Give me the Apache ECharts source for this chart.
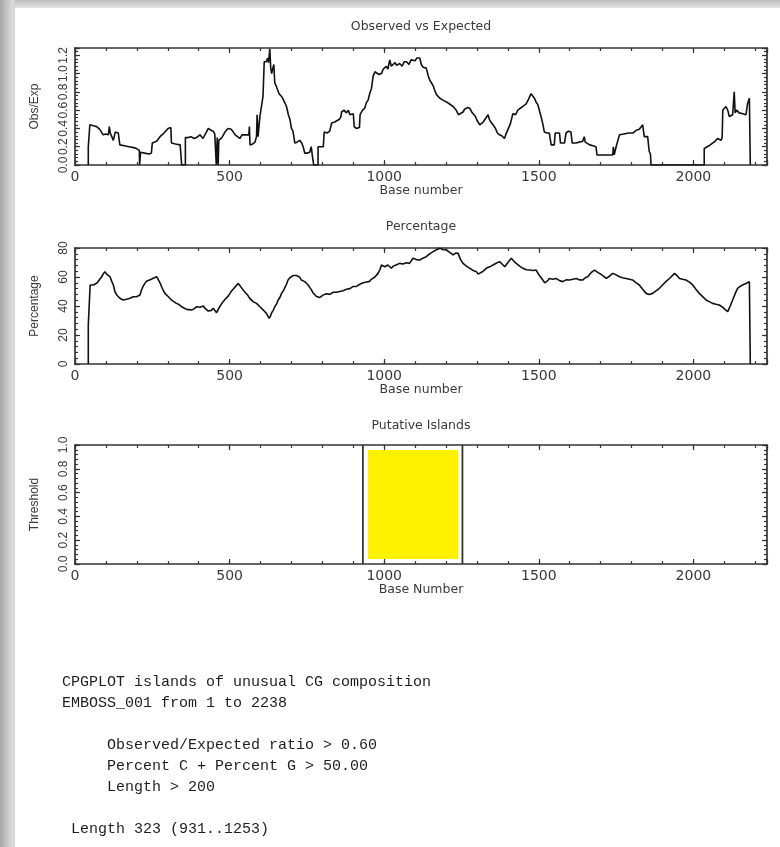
<!DOCTYPE html>
<html><head><meta charset="utf-8">
<script src="https://cdn.jsdelivr.net/npm/echarts@6/dist/echarts.min.js"></script>
<style>html,body{margin:0;padding:0;background:#fff}#c{width:780px;height:847px}</style>
</head><body><div id="c"></div>
<script>
const seqLength = 2238;
const obsExp = [[43,0],[43,0.2],[47,0.2],[48,0.44],[60,0.43],[70,0.42],[80,0.39],[91,0.33],[100,0.34],[108,0.33],[111,0.42],[114,0.35],[124,0.27],[130,0.36],[140,0.35],[143,0.36],[145,0.22],[160,0.21],[175,0.2],[190,0.19],[199,0.18],[205,0.16],[208,0.16],[209,0],[211,0],[212,0.14],[225,0.13],[240,0.12],[247,0.13],[250,0.24],[264,0.26],[275,0.31],[285,0.34],[291,0.36],[301,0.4],[307,0.42],[310,0.41],[312,0.24],[325,0.23],[340,0.22],[345,0.23],[345,0],[357,0],[357,0.3],[366,0.3],[375,0.31],[385,0.29],[393,0.3],[404,0.33],[414,0.29],[420,0.33],[425,0.36],[431,0.4],[440,0.38],[447,0.37],[452,0.34],[457,0.33],[457,0],[460,0],[460,0.3],[463,0.3],[463,0],[465,0],[465,0.27],[475,0.3],[485,0.36],[495,0.4],[505,0.39],[512,0.36],[518,0.33],[523,0.31],[533,0.29],[540,0.33],[544,0.35],[550,0.33],[555,0.34],[562,0.33],[564,0.42],[566,0.22],[575,0.23],[582,0.25],[587,0.31],[589,0.55],[592,0.31],[596,0.31],[598,0.53],[603,0.64],[608,0.75],[611,0.75],[612,1.13],[616,1.11],[619,1.13],[623,1.17],[626,1.12],[630,1.27],[633,1.06],[636,1.0],[640,1.06],[643,1.1],[646,0.9],[650,0.87],[660,0.78],[668,0.75],[673,0.72],[679,0.7],[684,0.64],[690,0.55],[695,0.5],[700,0.4],[705,0.37],[711,0.24],[718,0.25],[727,0.27],[733,0.24],[738,0.2],[743,0.13],[750,0.13],[759,0.14],[764,0.2],[768,0.09],[771,0.09],[772,0],[786,0],[786,0.2],[803,0.2],[806,0.36],[815,0.35],[824,0.37],[830,0.46],[840,0.47],[846,0.48],[855,0.5],[860,0.53],[862,0.58],[870,0.6],[878,0.57],[884,0.6],[889,0.55],[895,0.57],[900,0.56],[903,0.42],[910,0.4],[920,0.41],[922,0.55],[930,0.6],[937,0.62],[942,0.68],[948,0.71],[953,0.78],[959,0.84],[964,0.97],[970,1.02],[975,1.02],[983,0.99],[991,1.0],[997,1.05],[1002,1.06],[1007,1.08],[1012,1.05],[1018,1.15],[1023,1.08],[1029,1.07],[1035,1.12],[1040,1.09],[1050,1.11],[1058,1.08],[1065,1.13],[1072,1.13],[1080,1.1],[1087,1.15],[1093,1.15],[1100,1.14],[1105,1.17],[1109,1.19],[1115,1.17],[1120,1.1],[1126,1.07],[1131,1.06],[1136,1.06],[1142,0.98],[1147,0.93],[1152,0.92],[1158,0.87],[1163,0.82],[1169,0.77],[1175,0.75],[1180,0.73],[1190,0.71],[1201,0.69],[1210,0.67],[1216,0.68],[1223,0.64],[1233,0.6],[1240,0.55],[1245,0.55],[1255,0.58],[1260,0.61],[1266,0.6],[1270,0.63],[1277,0.62],[1283,0.58],[1288,0.57],[1295,0.53],[1300,0.49],[1309,0.44],[1315,0.46],[1320,0.47],[1330,0.52],[1336,0.55],[1340,0.5],[1345,0.47],[1352,0.44],[1360,0.4],[1366,0.35],[1373,0.33],[1380,0.32],[1389,0.29],[1394,0.34],[1400,0.35],[1408,0.45],[1416,0.56],[1425,0.55],[1432,0.6],[1438,0.62],[1448,0.64],[1459,0.67],[1467,0.72],[1475,0.78],[1481,0.8],[1486,0.73],[1491,0.69],[1497,0.66],[1502,0.64],[1508,0.52],[1513,0.45],[1518,0.36],[1526,0.35],[1534,0.35],[1538,0.33],[1540,0.22],[1550,0.22],[1553,0.35],[1567,0.35],[1570,0.24],[1583,0.24],[1588,0.35],[1596,0.37],[1604,0.36],[1608,0.24],[1620,0.24],[1630,0.25],[1642,0.26],[1647,0.31],[1650,0.25],[1653,0.24],[1665,0.22],[1675,0.21],[1685,0.2],[1688,0.11],[1739,0.11],[1741,0.2],[1744,0.11],[1748,0.11],[1750,0.2],[1755,0.2],[1761,0.33],[1775,0.34],[1790,0.35],[1804,0.35],[1815,0.38],[1825,0.39],[1836,0.44],[1841,0.31],[1852,0.31],[1857,0.15],[1861,0.12],[1863,0],[2035,0],[2035,0.18],[2041,0.2],[2050,0.21],[2062,0.24],[2070,0.26],[2078,0.29],[2089,0.27],[2093,0.3],[2095,0.6],[2100,0.62],[2105,0.64],[2111,0.6],[2116,0.53],[2121,0.51],[2127,0.55],[2131,0.53],[2132,0.8],[2135,0.57],[2140,0.6],[2143,0.62],[2148,0.57],[2160,0.56],[2170,0.55],[2175,0.67],[2181,0.73],[2184,0.72],[2184,0]];
const percent = [[43,0],[43,27],[48,27],[49,54.5],[60,54.5],[66,55.5],[72,56],[80,58.5],[86,60],[91,62],[97,63.7],[102,62],[108,61.5],[113,60.2],[119,57],[124,54.5],[129,50],[135,47.6],[140,46.5],[145,45.3],[150,44.5],[156,44.1],[162,44.8],[167,44.6],[172,45.5],[178,45.3],[183,46],[188,46.4],[194,46.8],[199,46.4],[205,47.2],[210,47.6],[215,51],[220,53.5],[226,55.6],[231,57],[237,57.9],[245,58.3],[253,59.1],[258,59.4],[264,60.2],[269,59.1],[275,56],[280,53.3],[286,50.5],[291,48.7],[296,47.5],[302,46.4],[307,45.3],[312,44.1],[320,43],[328,41.8],[336,41],[345,39.5],[352,38.6],[361,37.7],[369,37.5],[377,37.2],[385,38],[393,39.5],[398,39.8],[404,39.1],[409,40.2],[415,40],[420,38.5],[425,37.2],[431,36.5],[436,36.1],[441,37],[447,38.4],[452,37.5],[458,35.4],[463,37.5],[468,39.5],[474,41.5],[479,43],[485,44.5],[490,45.3],[496,47],[501,48.7],[507,50.5],[512,51],[517,53],[522,53.3],[528,55.6],[533,54.2],[539,52.5],[544,51],[550,49.5],[555,48.7],[560,47],[565,45.3],[571,44.5],[576,43],[582,42],[587,41.8],[593,40.5],[598,39.5],[603,38.5],[609,37.2],[614,36],[619,34.9],[624,33],[628,31.5],[632,33],[635,34.9],[641,37],[646,39.5],[652,41.5],[657,44.1],[663,46],[668,48.7],[674,50.5],[679,52.9],[684,55],[689,57.9],[695,59.5],[700,60.7],[705,61],[711,61.4],[716,61],[722,60.7],[727,59.8],[732,57.9],[738,57.5],[743,56.8],[749,55.5],[754,54.5],[760,52.5],[765,51],[770,49],[775,48.7],[781,46.5],[786,45.3],[791,45.8],[797,46.4],[802,47.5],[808,47.6],[813,48.5],[818,48.7],[824,48],[829,48.3],[835,49.5],[840,50],[845,49.5],[851,48.7],[856,50],[862,51],[867,50.5],[872,50.6],[878,51.5],[883,52.2],[889,52],[894,52.9],[900,53.5],[905,53.8],[910,53.5],[915,53.8],[921,55],[926,55.6],[932,56],[937,56.1],[943,56.5],[948,55.6],[953,57],[958,58.4],[964,59],[969,59.8],[975,61],[980,62.5],[986,65],[991,68.3],[996,67.5],[1002,67.1],[1007,68],[1012,68.3],[1018,67.5],[1023,66],[1029,67.5],[1034,67.1],[1040,68.5],[1045,68.3],[1050,69.4],[1061,69],[1071,69.8],[1082,69.4],[1093,72.9],[1104,72],[1115,71.7],[1125,73],[1136,74],[1147,76],[1158,77.5],[1169,78.8],[1180,79.8],[1190,79],[1201,78.6],[1212,77],[1223,75.2],[1231,76.5],[1239,76.3],[1247,72],[1255,69.4],[1266,67.5],[1277,66],[1288,64.5],[1298,63.7],[1304,62],[1309,61.4],[1320,64],[1330,66],[1341,67],[1352,68.3],[1362,69.5],[1373,70.6],[1381,69],[1390,67.1],[1400,70],[1411,72.9],[1419,71],[1427,69.4],[1438,67.5],[1449,66],[1460,65],[1470,64.8],[1481,64.5],[1491,64.8],[1502,61],[1513,57.9],[1519,56],[1524,55.6],[1529,57.5],[1534,59],[1545,58.5],[1556,59],[1567,57.5],[1578,56.8],[1588,58],[1599,57.9],[1610,58.5],[1621,59],[1632,58],[1642,57.9],[1650,59.5],[1658,60.2],[1669,63],[1680,64.8],[1688,63.5],[1696,62.5],[1707,61],[1718,59],[1728,60.5],[1739,62.5],[1750,61.5],[1761,60.2],[1771,59.5],[1782,59],[1793,58.5],[1804,57.9],[1815,56],[1825,54.5],[1836,51.5],[1847,48.7],[1857,48],[1868,48.7],[1879,50.5],[1890,52.2],[1900,54.5],[1911,56.8],[1925,59.5],[1939,62.5],[1947,61],[1955,59],[1965,58.5],[1976,57.9],[1987,56.5],[1998,54.5],[2008,51.5],[2019,48.7],[2030,46.5],[2041,44.1],[2051,43],[2062,41.8],[2073,41.2],[2084,40.7],[2095,39],[2103,37.5],[2111,36.1],[2119,40],[2127,44.1],[2135,48.5],[2143,52.2],[2151,53.5],[2159,54.5],[2170,55.5],[2181,56.8],[2184,57],[2184,0]];
const islands = [[931, 1253]];
const titles = ['Observed vs Expected', 'Percentage', 'Putative Islands'];
const xNames = ['Base number', 'Base number', 'Base Number'];
const yNames = ['Obs/Exp', 'Percentage', 'Threshold'];
const yMax = [1.28, 80, 1.0];
const yStep = [0.2, 20, 0.2];
const yMinorStep = [0.04, 4, 0.04];
const yDecimals = [1, 0, 1];
const xStep = 500, xMinorStep = 100;
const criteria = { ratio: '0.60', percent: '50.00', length: '200' };
const reportLines = [
  'CPGPLOT islands of unusual CG composition',
  'EMBOSS_001 from 1 to ' + seqLength,
  '',
  '     Observed/Expected ratio > ' + criteria.ratio,
  '     Percent C + Percent G > ' + criteria.percent,
  '     Length > ' + criteria.length,
  '',
  ' Length ' + (islands[0][1] - islands[0][0] + 1) + ' (' + islands[0][0] + '..' + islands[0][1] + ')'
];

const gridTops = [48, 248, 445];
const gridHeights = [117, 116, 119];
const titleTops = [20, 220, 419];
const AX = '#333';
const TXT = '#3a3a3a';
const wideFont = 'DejaVu Sans';
const narrowFont = 'Liberation Sans';

const chart = echarts.init(document.getElementById('c'), null, { renderer: 'canvas' });
const grids = [], xAxes = [], yAxes = [], titleOpts = [];
for (let i = 0; i < 3; i++) {
  grids.push({ left: 75, right: 13, top: gridTops[i], height: gridHeights[i], containLabel: false, outerBoundsMode: 'none' });
  titleOpts.push({ text: titles[i], left: 421, top: titleTops[i], textAlign: 'center', padding: 0,
    textStyle: { fontSize: 12.5, fontWeight: 'normal', fontFamily: wideFont, color: TXT } });
  const xBase = { gridIndex: i, type: 'value', min: 0, max: seqLength, splitLine: { show: false } };
  const tickStyle = { color: AX, width: 1.2 };
  const lineStyle = { color: AX, width: 1.7 };
  xAxes.push(Object.assign({}, xBase, { position: 'bottom', interval: xStep,
    axisLine: { show: true, onZero: false, lineStyle },
    axisTick: { show: true, inside: true, length: 5, lineStyle: tickStyle },
    axisLabel: { show: true, margin: 5, fontSize: 14, fontFamily: wideFont, color: TXT,
      formatter: v => (Math.abs(v % xStep) < 1e-6 ? String(v) : '') },
    name: xNames[i], nameLocation: 'middle', nameGap: 19, nameMoveOverlap: false,
    nameTextStyle: { fontSize: 12.5, fontFamily: wideFont, color: TXT } }));
  xAxes.push(Object.assign({}, xBase, { position: 'bottom', interval: xMinorStep,
    axisLine: { show: false, onZero: false }, axisTick: { show: true, inside: true, length: 3, lineStyle: tickStyle },
    axisLabel: { show: false } }));
  xAxes.push(Object.assign({}, xBase, { position: 'top', interval: xStep,
    axisLine: { show: true, onZero: false, lineStyle }, axisTick: { show: true, inside: true, length: 5, lineStyle: tickStyle },
    axisLabel: { show: false } }));
  xAxes.push(Object.assign({}, xBase, { position: 'top', interval: xMinorStep,
    axisLine: { show: false, onZero: false }, axisTick: { show: true, inside: true, length: 3, lineStyle: tickStyle },
    axisLabel: { show: false } }));

  const yBase = { gridIndex: i, type: 'value', min: 0, max: yMax[i], splitLine: { show: false } };
  const step = yStep[i], dec = yDecimals[i];
  yAxes.push(Object.assign({}, yBase, { position: 'left', interval: step,
    axisLine: { show: true, onZero: false, lineStyle }, axisTick: { show: true, inside: true, length: 5, lineStyle: tickStyle },
    axisLabel: { show: true, rotate: 90, margin: 5, fontSize: 12, fontFamily: narrowFont, color: TXT,
      formatter: v => { const k = v / step; return Math.abs(k - Math.round(k)) < 1e-6 ? v.toFixed(dec) : ''; } },
    name: yNames[i], nameLocation: 'middle', nameGap: 34, nameMoveOverlap: false,
    nameTextStyle: { fontSize: 12, fontFamily: narrowFont, color: TXT } }));
  yAxes.push(Object.assign({}, yBase, { position: 'left', interval: yMinorStep[i],
    axisLine: { show: false, onZero: false }, axisTick: { show: true, inside: true, length: 3, lineStyle: tickStyle },
    axisLabel: { show: false } }));
  yAxes.push(Object.assign({}, yBase, { position: 'right', interval: step,
    axisLine: { show: true, onZero: false, lineStyle }, axisTick: { show: true, inside: true, length: 5, lineStyle: tickStyle },
    axisLabel: { show: false } }));
  yAxes.push(Object.assign({}, yBase, { position: 'right', interval: yMinorStep[i],
    axisLine: { show: false, onZero: false }, axisTick: { show: true, inside: true, length: 3, lineStyle: tickStyle },
    axisLabel: { show: false } }));
}

const lineSeries = (data, idx) => ({
  type: 'line', data, xAxisIndex: idx * 4, yAxisIndex: idx * 4,
  showSymbol: false, symbol: 'none', smooth: false, clip: true, silent: true,
  lineStyle: { color: '#111', width: 1.6 }, z: 5
});

const option = {
  animation: false,
  backgroundColor: '#fff',
  title: titleOpts,
  grid: grids,
  xAxis: xAxes,
  yAxis: yAxes,
  series: [
    lineSeries(obsExp, 0),
    lineSeries(percent, 1),
    {
      type: 'custom', xAxisIndex: 8, yAxisIndex: 8, silent: true, z: 3,
      data: islands.map(d => [d[0], d[1], 0, 1]),
      encode: { x: [0, 1], y: [2, 3] },
      renderItem: (params, api) => {
        const p0 = api.coord([api.value(0), api.value(2)]);
        const p1 = api.coord([api.value(1), api.value(3)]);
        return { type: 'group', children: [
          { type: 'rect', shape: { x: p0[0] + 5, y: p1[1] + 5, width: p1[0] - p0[0] - 9, height: p0[1] - p1[1] - 10 },
            style: { fill: '#fff200' } },
          { type: 'line', shape: { x1: p0[0], y1: p1[1], x2: p0[0], y2: p0[1] }, style: { stroke: AX, lineWidth: 1.8 } },
          { type: 'line', shape: { x1: p1[0], y1: p1[1], x2: p1[0], y2: p0[1] }, style: { stroke: AX, lineWidth: 1.8 } }
        ] };
      }
    }
  ],
  graphic: [
    { type: 'rect', left: 0, top: 0, z: -10, shape: { width: 780, height: 8 },
      style: { fill: new echarts.graphic.LinearGradient(0, 0, 0, 1, [{ offset: 0, color: '#bcbcbc' }, { offset: 1, color: '#e4e4e4' }]) } },
    { type: 'rect', left: 0, top: 0, z: -9, shape: { width: 15, height: 847 },
      style: { fill: new echarts.graphic.LinearGradient(0, 0, 1, 0, [{ offset: 0, color: '#a8a8a8' }, { offset: 0.85, color: '#dcdcdc' }, { offset: 1, color: '#d0d0d0' }]) } },
    { type: 'text', left: 62, top: 672, z: 10,
      style: { text: reportLines.join('\n'), font: '15px "Liberation Mono", monospace', lineHeight: 21, fill: '#1e1e1e' } }
  ]
};
chart.setOption(option);
</script></body></html>
